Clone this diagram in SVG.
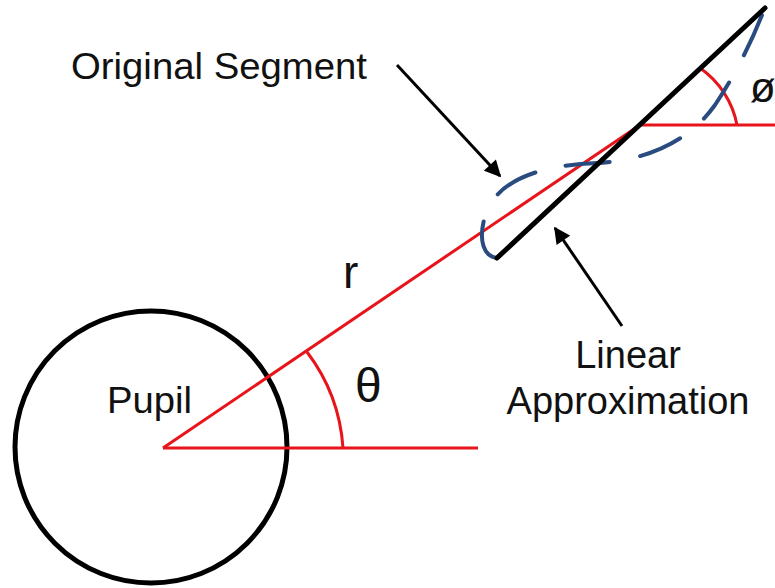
<svg xmlns="http://www.w3.org/2000/svg" width="775" height="588" viewBox="0 0 775 588">
<defs>
<style>
.lbl{font-family:"Liberation Sans",Arial,sans-serif;fill:#111;}
.red{stroke:#e8141b;stroke-width:3;fill:none;}
.blk{stroke:#000;fill:none;}
.arr{stroke:#000;stroke-width:3;fill:none;marker-end:url(#ah);}
</style>
<marker id="ah" viewBox="0 0 10 10" refX="9" refY="5" markerWidth="6" markerHeight="5.5" orient="auto" markerUnits="strokeWidth">
<path d="M0,0 L10,5 L0,10 z" fill="#000"/>
</marker>
</defs>
<rect width="775" height="588" fill="#fff"/>
<g id="pupil">
<circle cx="151" cy="447" r="136" class="blk" stroke-width="5"/>
<text class="lbl" x="107" y="413" font-size="37" textLength="85" lengthAdjust="spacingAndGlyphs">Pupil</text>
</g>
<g id="angles">
<line x1="163" y1="448" x2="478" y2="448" class="red"/>
<line x1="163" y1="448" x2="640" y2="125" class="red"/>
<path d="M343,448 A178,178 0 0 0 307,352" class="red"/>
<line x1="640" y1="125" x2="775" y2="125" class="red"/>
<path d="M737,125 A90,90 0 0 0 700,68" class="red"/>
<text class="lbl" x="343" y="288" font-size="46">r</text>
<text class="lbl" x="355" y="402" font-size="48">θ</text>
<text class="lbl" x="750" y="102" font-size="42">ø</text>
</g>
<g id="original-segment">
<path d="M497,258 C480,256 478,232 488,208 C502,180 540,165 597,163 C650,160 690,140 715,105 C735,75 750,45 762,15" fill="none" stroke="#2a4b7f" stroke-width="4" stroke-linecap="round" stroke-dasharray="44 31"/>
</g>
<g id="linear-approximation">
<line x1="497" y1="258" x2="765" y2="8" class="blk" stroke-width="5" stroke-linecap="round"/>
</g>
<g id="labels">
<text class="lbl" x="71" y="79" font-size="37" textLength="296" lengthAdjust="spacingAndGlyphs">Original Segment</text>
<text class="lbl" x="628" y="368" font-size="38" text-anchor="middle">Linear</text>
<text class="lbl" x="628" y="414" font-size="38" text-anchor="middle">Approximation</text>
</g>
<g id="connectors">
<line x1="397" y1="65" x2="500" y2="176" class="arr"/>
<line x1="622" y1="326" x2="555" y2="228" class="arr"/>
</g>
</svg>
